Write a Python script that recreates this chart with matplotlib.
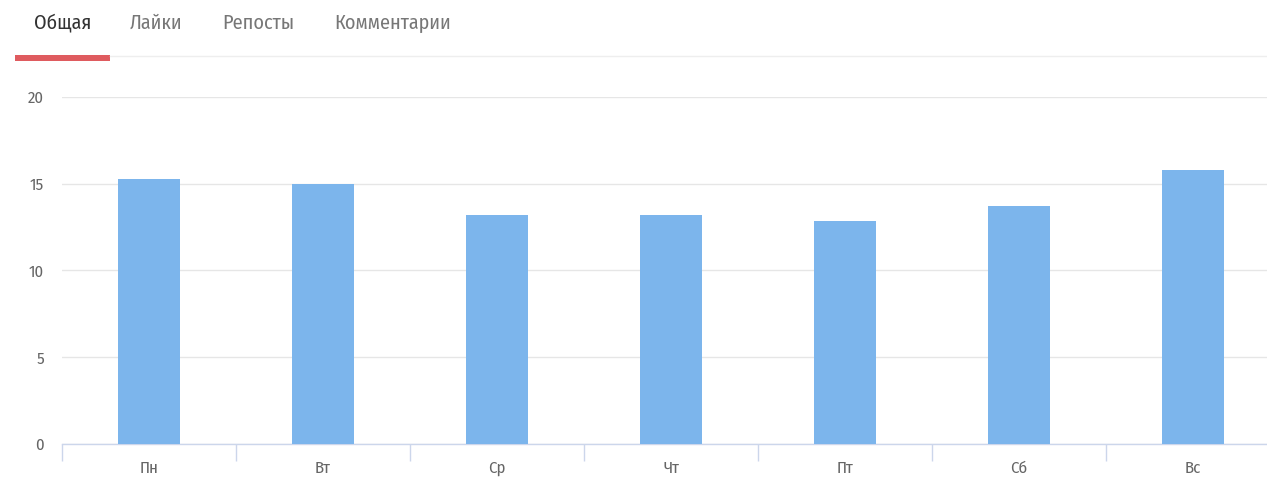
import matplotlib
matplotlib.use("Agg")
import matplotlib.pyplot as plt
from matplotlib.lines import Line2D
from matplotlib.patches import Rectangle

days = ["Пн", "Вт", "Ср", "Чт", "Пт", "Сб", "Вс"]
values = [15.3, 15.0, 13.2, 13.2, 12.85, 13.7, 15.77]
tabs = ["Общая", "Лайки", "Репосты", "Комментарии"]
yticks = [0, 5, 10, 15, 20]

FONT = ["Fira Sans Condensed", "DejaVu Sans"]
plt.rcParams["font.family"] = FONT
plt.rcParams["font.stretch"] = "condensed"
plt.rcParams["font.weight"] = 400

W, H = 1267, 479
fig = plt.figure(figsize=(W / 100, H / 100), dpi=100)
fig.patch.set_facecolor("white")

def fx(px):
    return px / W

def fy(py):
    return 1 - py / H

# Tabs
tab_x = [34, 130, 222, 334]
for i, (t, x) in enumerate(zip(tabs, tab_x)):
    fig.text(fx(x), fy(23), t, fontsize=14.5, color="#333333" if i == 0 else "#777777",
             ha="left", va="center", fontweight=400)
fig.add_artist(Line2D([fx(110), 1], [fy(56), fy(56)], color="#eeeeee", lw=1))
fig.add_artist(Rectangle((fx(15), fy(61)), fx(110) - fx(15), fy(55) - fy(61),
                         transform=fig.transFigure, color="#df5b5f", lw=0))

# Axes
left, right = 62, 1280
bottom, top = 444, 97
ax = fig.add_axes([fx(left), fy(bottom), fx(right - left), fy(top) - fy(bottom)])
x = list(range(len(days)))
ax.bar(x, values, width=0.36, color="#7cb5ec", zorder=3)
ax.set_xlim(-0.5, len(days) - 0.5)
ax.set_ylim(0, 20)
ax.set_yticks(yticks)
ax.set_yticklabels([str(v) for v in yticks], fontweight=400)
ax.grid(axis="y", color="#e6e6e6", lw=1, zorder=0)
ax.set_xticks(x)
ax.set_xticklabels(days, fontweight=400)
ax.set_xticks([i - 0.5 for i in range(len(days) + 1)], minor=True)
ax.tick_params(axis="x", which="major", length=0, pad=11.5, labelsize=12, labelcolor="#666666")
ax.tick_params(axis="x", which="minor", length=12, width=1, color="#ccd6eb", direction="out")
ax.tick_params(axis="y", length=0, pad=13, labelsize=12, labelcolor="#666666")
for s in ["top", "right", "left"]:
    ax.spines[s].set_visible(False)
ax.spines["bottom"].set_color("#ccd6eb")
ax.spines["bottom"].set_linewidth(1)
ax.set_facecolor("none")

fig.savefig("out.png", dpi=100, facecolor="white")
